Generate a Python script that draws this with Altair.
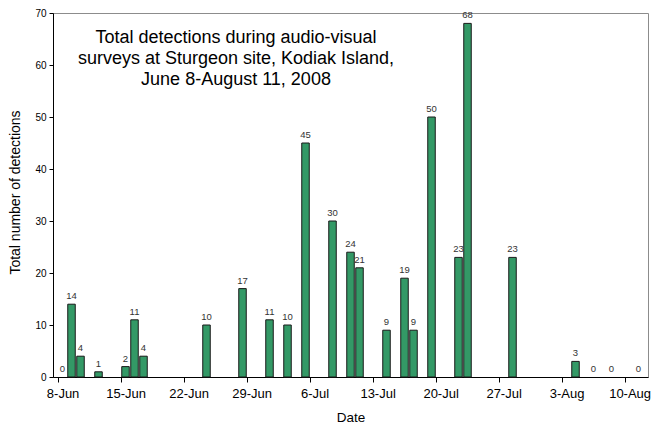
import altair as alt
import pandas as pd

# Survey dates and total detections per day
dates = ["2008-06-08", "2008-06-09", "2008-06-10", "2008-06-12", "2008-06-15",
         "2008-06-16", "2008-06-17", "2008-06-24", "2008-06-28", "2008-07-01",
         "2008-07-03", "2008-07-05", "2008-07-08", "2008-07-10", "2008-07-11",
         "2008-07-14", "2008-07-16", "2008-07-17", "2008-07-19", "2008-07-22",
         "2008-07-23", "2008-07-28", "2008-08-04", "2008-08-06", "2008-08-08",
         "2008-08-11"]
counts = [0, 14, 4, 1, 2, 11, 4, 10, 17, 11, 10, 45, 30, 24, 21, 9, 19, 9, 50,
          23, 68, 23, 3, 0, 0, 0]

# Weekly tick dates (month, day)
tick_days = [(6, 8), (6, 15), (6, 22), (6, 29), (7, 6), (7, 13), (7, 20),
             (7, 27), (8, 3), (8, 10)]

title_lines = ["Total detections during audio-visual",
               "surveys at Sturgeon site, Kodiak Island,",
               "June 8-August 11, 2008"]

df = pd.DataFrame({"date": dates, "count": counts})

FONT = "Liberation Sans"

x_enc = alt.X(
    "mid:T",
    title="Date",
    scale=alt.Scale(
        type="utc",
        domain=[alt.DateTime(year=2008, month=6, date=8, utc=True),
                alt.DateTime(year=2008, month=8, date=12, utc=True)],
    ),
    axis=alt.Axis(
        values=[alt.DateTime(year=2008, month=m, date=d, utc=True) for m, d in tick_days],
        labelExpr="utcFormat(datum.value, '%-d-%b')",
        labelOffset=4.6,
        labelFontSize=13,
        labelPadding=5,
        tickSize=5,
        titleFontSize=13.5,
        titlePadding=10,
        grid=False,
    ),
)
y_enc = alt.Y(
    "count:Q",
    title="Total number of detections",
    scale=alt.Scale(domain=[0, 70], nice=False),
    axis=alt.Axis(
        values=[0, 10, 20, 30, 40, 50, 60, 70],
        labelFontSize=10,
        labelPadding=3,
        tickSize=4,
        titleFontSize=14,
        titleX=-38,
        titleY=179,
        titleAngle=-90,
        titleAlign="center",
        titleBaseline="middle",
        grid=False,
    ),
)

# Bars sit in the middle of their day
base = alt.Chart(df).transform_calculate(
    mid="toDate(datum.date) + 43200000"
)

# Days with no detections get a label but no visible bar
bars = base.transform_filter("datum.count > 0").mark_bar(
    size=7.5, color="#339966", stroke="#1a1a1a", strokeWidth=1
).encode(x=x_enc, y=y_enc)

labels = base.mark_text(
    baseline="bottom", dy=-3, fontSize=9.5, color="#333333", font=FONT
).encode(x="mid:T", y="count:Q", text="count:Q")

heading = alt.Chart(pd.DataFrame({"t": [title_lines]})).mark_text(
    align="center", baseline="alphabetic", fontSize=18, lineHeight=21,
    color="black", font=FONT
).encode(text="t", x=alt.value(183), y=alt.value(29.5))

chart = (
    alt.layer(bars, labels, heading)
    .properties(
        width=595, height=364,
        autosize=alt.AutoSizeParams(type="none"),
        padding={"left": 53, "top": 13, "right": 8, "bottom": 47},
    )
    .configure(font=FONT)
    .configure_view(stroke="#8c8c8c", strokeWidth=1)
    .configure_axis(
        domainColor="black", tickColor="black", labelColor="black",
        titleColor="black", titleFontWeight="normal", labelFont=FONT, titleFont=FONT,
    )
)

chart.save("out.html", embed_options={"renderer": "svg", "actions": False})
